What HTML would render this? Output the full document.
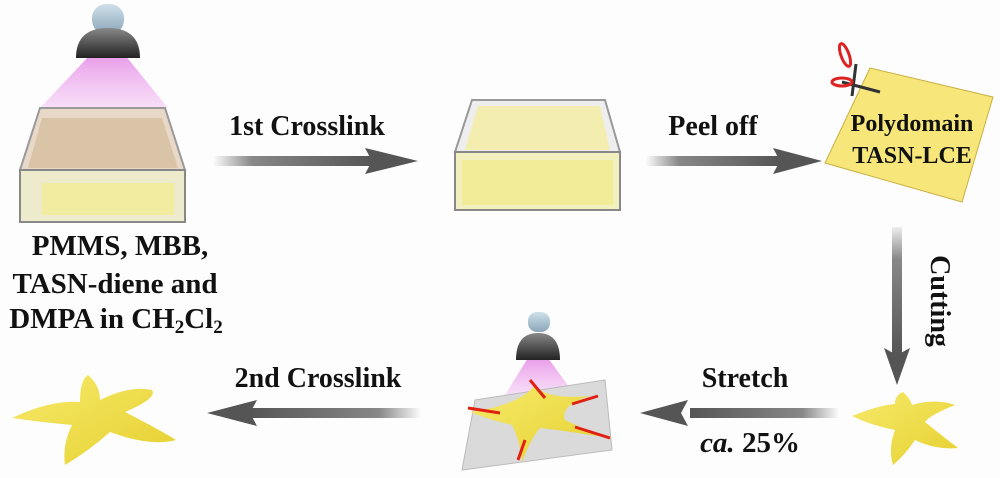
<!DOCTYPE html>
<html><head><meta charset="utf-8"><style>
html,body{margin:0;padding:0;background:#fdfdfd;}
svg{display:block}
text{font-family:"Liberation Serif",serif;font-weight:bold;fill:#111}
</style></head><body>
<svg width="1000" height="478" viewBox="0 0 1000 478" xmlns="http://www.w3.org/2000/svg">
<defs>
<linearGradient id="sh" x1="0" y1="0" x2="1" y2="0">
<stop offset="0" stop-color="#fff"/><stop offset="0.25" stop-color="#888"/><stop offset="1" stop-color="#555"/></linearGradient>
<linearGradient id="shv" x1="0" y1="0" x2="0" y2="1">
<stop offset="0" stop-color="#eee"/><stop offset="0.25" stop-color="#888"/><stop offset="1" stop-color="#555"/></linearGradient>
<linearGradient id="dome" x1="0" y1="0" x2="0" y2="1"><stop offset="0" stop-color="#888"/><stop offset="1" stop-color="#222"/></linearGradient>
<linearGradient id="bulb" x1="0" y1="0" x2="0" y2="1"><stop offset="0" stop-color="#cfe0ea"/><stop offset="1" stop-color="#8aa6b8"/></linearGradient>
<linearGradient id="cone" x1="0" y1="0" x2="0" y2="1"><stop offset="0" stop-color="#e070e0" stop-opacity="0.7"/><stop offset="1" stop-color="#f0b0f0" stop-opacity="0.4"/></linearGradient>
<linearGradient id="star" x1="0" y1="0" x2="1" y2="1"><stop offset="0" stop-color="#f6ea6a"/><stop offset="1" stop-color="#e6d030"/></linearGradient>
</defs>

<!-- Lamp 1 -->
<polygon points="90,55 125,55 168,108 40,108" fill="url(#cone)"/>
<rect x="92" y="4" width="32" height="30" rx="14" fill="url(#bulb)"/>
<path d="M76,58 Q76,28 108,28 Q140,28 140,58 Z" fill="url(#dome)"/>
<!-- Box 1 -->
<polygon points="40,108 165,108 185,170 20,170" fill="#e8d8c8" stroke="#999" stroke-width="2"/>
<polygon points="42,118 162,118 178,168 28,168" fill="#d9c4a8"/>
<rect x="20" y="170" width="165" height="52" fill="#eeeacc" stroke="#888" stroke-width="2"/>
<rect x="42" y="183" width="132" height="32" fill="#f2eca0"/>
<!-- Box 2 -->
<polygon points="472,100 605,100 620,152 455,152" fill="#eeeeee" stroke="#999" stroke-width="2"/>
<polygon points="478,106 600,106 610,150 465,150" fill="#f3eeb0"/>
<rect x="455" y="152" width="165" height="58" fill="#f3f0c0" stroke="#888" stroke-width="2"/>
<rect x="462" y="160" width="151" height="45" fill="#f2eb98"/>

<!-- Arrows -->
<g>
<rect x="212" y="156" width="160" height="10" fill="url(#sh)"/>
<polygon points="365,148 418,161 365,174 372,161" fill="#555"/>
<rect x="645" y="156" width="135" height="10" fill="url(#sh)"/>
<polygon points="773,148 822,161 773,174 780,161" fill="#555"/>
<rect x="892" y="227" width="10" height="128" fill="url(#shv)"/>
<polygon points="884,348 897,385 910,348 897,355" fill="#555"/>
<rect x="690" y="408" width="150" height="10" fill="url(#sh)" transform="rotate(180 765 413)"/>
<polygon points="688,400 640,413 688,426 681,413" fill="#555"/>
<rect x="250" y="408" width="172" height="10" fill="url(#sh)" transform="rotate(180 336 413)"/>
<polygon points="257,400 207,413 257,426 250,413" fill="#555"/>
</g>

<!-- Labels -->
<text x="307" y="135" font-size="28" text-anchor="middle">1st Crosslink</text>
<text x="713" y="135" font-size="28" text-anchor="middle">Peel off</text>
<text x="318" y="387" font-size="28" text-anchor="middle">2nd Crosslink</text>
<text x="745" y="387" font-size="28" text-anchor="middle">Stretch</text>
<text x="750" y="452" font-size="29" text-anchor="middle"><tspan font-style="italic">ca.</tspan> 25%</text>
<text x="931" y="301" font-size="28" text-anchor="middle" transform="rotate(90 931 301)">Cutting</text>
<g font-size="29" text-anchor="middle">
<text x="120" y="255">PMMS, MBB,</text>
<text x="115" y="293">TASN-diene and</text>
<text x="116" y="328">DMPA in CH<tspan font-size="19" dy="5">2</tspan><tspan dy="-5">Cl</tspan><tspan font-size="19" dy="5">2</tspan></text>
</g>

<!-- Yellow sheet -->
<polygon points="870,68 993,97 962,202 825,163" fill="#f7e77a" stroke="#c9b040" stroke-width="1"/>
<text x="912" y="131" font-size="24" text-anchor="middle">Polydomain</text>
<text x="912" y="163" font-size="24" text-anchor="middle">TASN-LCE</text>
<!-- scissors -->
<path d="M842,82 L880,92 M856,64 L852,96" stroke="#333" stroke-width="3"/>
<ellipse cx="842" cy="82" rx="10" ry="4" fill="none" stroke="#d22" stroke-width="3"/>
<ellipse cx="845" cy="55" rx="4" ry="12" fill="none" stroke="#d22" stroke-width="3" transform="rotate(-20 845 55)"/>

<!-- Lamp 2 & plate -->
<polygon points="528,358 548,358 575,395 505,395" fill="url(#cone)"/>
<rect x="528" y="312" width="22" height="20" rx="9" fill="url(#bulb)"/>
<path d="M516,360 Q516,333 538,333 Q560,333 560,360 Z" fill="url(#dome)"/>
<polygon points="475,400 605,380 612,450 462,470" fill="#dadada" stroke="#bbb"/>
<path d="M470,412 Q520,405 535,385 Q545,400 590,396 Q560,405 565,420 Q585,430 610,438 Q560,430 540,428 Q530,440 522,462 Q520,440 512,425 Q490,420 470,412 Z" fill="url(#star)"/>
<g stroke="#e02010" stroke-width="3" fill="#e02010">
<line x1="500" y1="413" x2="468" y2="408"/><line x1="545" y1="398" x2="530" y2="380"/>
<line x1="572" y1="404" x2="598" y2="396"/><line x1="575" y1="427" x2="610" y2="438"/>
<line x1="525" y1="440" x2="518" y2="460"/></g>

<!-- Stars -->
<path d="M12,418 Q50,400 80,402 Q80,380 88,375 Q100,385 100,400 Q130,385 152,390 Q158,398 125,412 Q160,430 176,440 Q150,447 110,432 Q90,450 65,465 Q62,445 72,425 Q40,422 12,418 Z" fill="url(#star)"/>
<path d="M852,416 Q880,405 895,404 Q895,395 903,392 Q910,398 912,405 Q935,398 955,405 Q930,415 925,422 Q945,438 958,448 Q935,450 915,440 Q905,455 893,465 Q888,448 895,430 Q870,425 852,416 Z" fill="url(#star)"/>
</svg>
</body></html>
